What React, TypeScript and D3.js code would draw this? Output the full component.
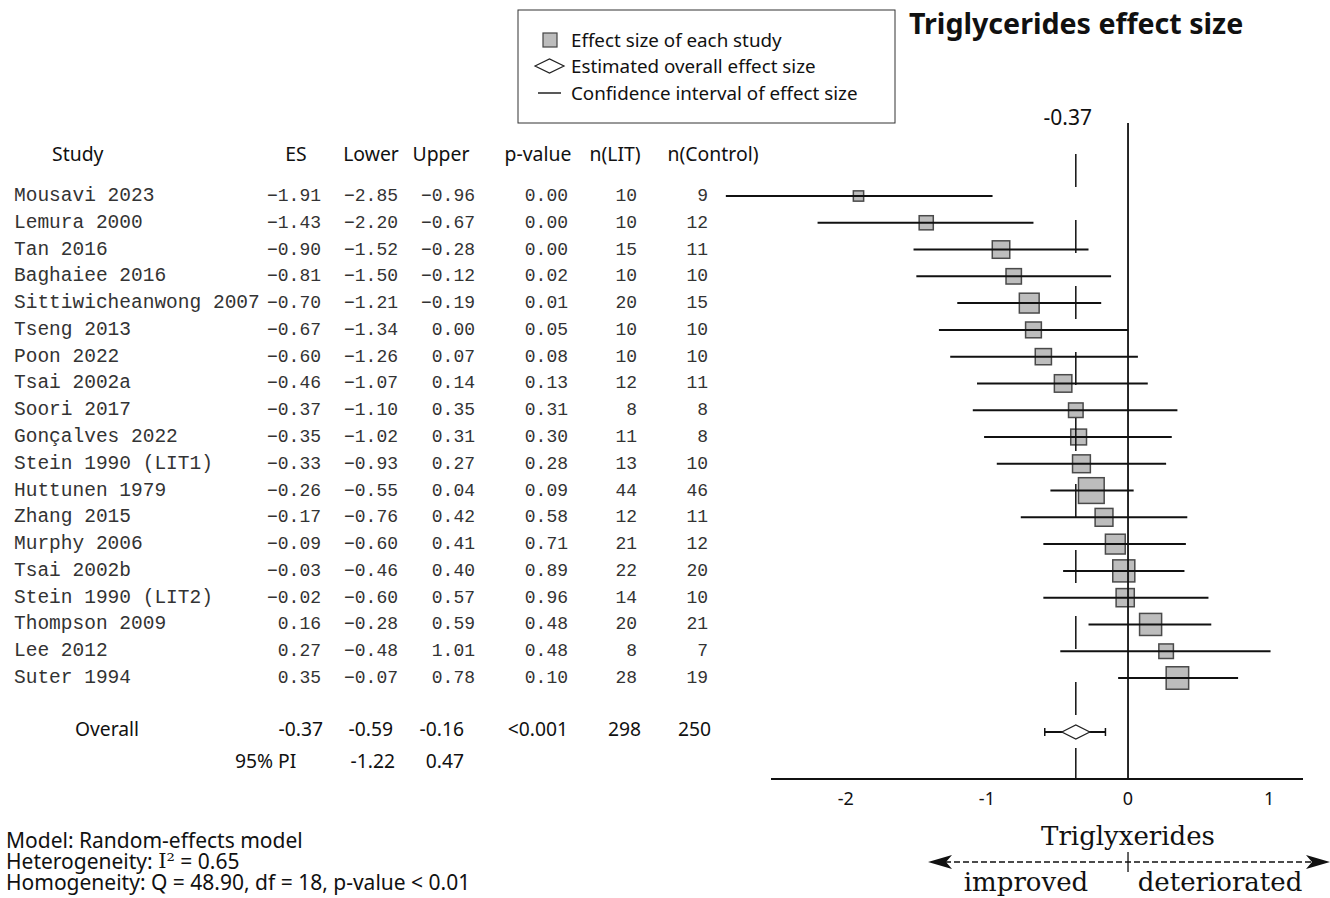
import * as d3 from 'd3';

const studies = [
  'Mousavi 2023', 'Lemura 2000', 'Tan 2016', 'Baghaiee 2016', 'Sittiwicheanwong 2007',
  'Tseng 2013', 'Poon 2022', 'Tsai 2002a', 'Soori 2017', 'Gonçalves 2022',
  'Stein 1990 (LIT1)', 'Huttunen 1979', 'Zhang 2015', 'Murphy 2006', 'Tsai 2002b',
  'Stein 1990 (LIT2)', 'Thompson 2009', 'Lee 2012', 'Suter 1994',
];
const es = [-1.91, -1.43, -0.90, -0.81, -0.70, -0.67, -0.60, -0.46, -0.37, -0.35, -0.33, -0.26, -0.17, -0.09, -0.03, -0.02, 0.16, 0.27, 0.35];
const lower = [-2.85, -2.20, -1.52, -1.50, -1.21, -1.34, -1.26, -1.07, -1.10, -1.02, -0.93, -0.55, -0.76, -0.60, -0.46, -0.60, -0.28, -0.48, -0.07];
const upper = [-0.96, -0.67, -0.28, -0.12, -0.19, 0.00, 0.07, 0.14, 0.35, 0.31, 0.27, 0.04, 0.42, 0.41, 0.40, 0.57, 0.59, 1.01, 0.78];
const pValues = [0.00, 0.00, 0.00, 0.02, 0.01, 0.05, 0.08, 0.13, 0.31, 0.30, 0.28, 0.09, 0.58, 0.71, 0.89, 0.96, 0.48, 0.48, 0.10];
const nLit = [10, 10, 15, 10, 20, 10, 10, 12, 8, 11, 13, 44, 12, 21, 22, 14, 20, 8, 28];
const nControl = [9, 12, 11, 10, 15, 10, 10, 11, 8, 8, 10, 46, 11, 12, 20, 10, 21, 7, 19];
// study weights (%)
const weights = [1.7, 3.2, 4.9, 3.8, 6.3, 4.0, 4.2, 4.9, 3.4, 4.0, 5.1, 10.6, 5.1, 6.3, 7.8, 5.3, 7.8, 3.4, 8.1];

const overall = { es: -0.37, lower: -0.59, upper: -0.16, p: '<0.001', nLit: 298, nControl: 250 };
const predInterval = [-1.22, 0.47];
const xTicks = [-2, -1, 0, 1];

const SANS = '"Noto Sans", "Open Sans", sans-serif';
const MONO = '"Liberation Mono", "Courier New", monospace';
const SERIF = '"DejaVu Serif", "Liberation Serif", serif';

export default function App() {
  const width = 1330, height = 898;

  const x = d3.scaleLinear().domain([-2.53, 1.24]).range([771, 1303]);
  const y = d3.scalePoint<string>().domain(studies).range([196, 678]);
  const size = d3.scaleSqrt().domain([0, d3.max(weights) as number]).range([0, 25.7]);
  const fmt = d3.format('.2f');

  const axisY = 779;
  const overallY = 728;
  const piY = 760;

  // right edges of the table columns
  const col = { es: 321, lower: 398, upper: 475, p: 568, nLit: 637, nControl: 708 };

  return (
    <svg width={width} height={height} style={{ position: 'absolute', left: 0, top: 0, background: '#fff' }}>
      {/* legend */}
      <rect x={518} y={10} width={377} height={113} fill="none" stroke="#333" strokeWidth={1} />
      <rect x={543} y={33} width={14} height={14} fill="#bdbdbd" stroke="#444" strokeWidth={1.2} />
      <path d="M535,66 L549.5,59 L564,66 L549.5,73 Z" fill="none" stroke="#222" strokeWidth={1.2} />
      <line x1={538} x2={561} y1={93} y2={93} stroke="#222" strokeWidth={1.5} />
      <g fontFamily={SANS} fontSize={18.8} fill="#111" dominantBaseline="central">
        <text x={571} y={40}>Effect size of each study</text>
        <text x={571} y={66}>Estimated overall effect size</text>
        <text x={571} y={93}>Confidence interval of effect size</text>
      </g>

      {/* title */}
      <text x={909} y={22} fontFamily={SANS} fontWeight="bold" fontSize={28.6} dominantBaseline="central" fill="#111">
        Triglycerides effect size
      </text>

      {/* table header */}
      <g fontFamily={SANS} fontSize={19.4} fill="#111" dominantBaseline="central">
        <text x={52} y={153}>Study</text>
        <text x={296} y={153} textAnchor="middle">ES</text>
        <text x={371} y={153} textAnchor="middle">Lower</text>
        <text x={441} y={153} textAnchor="middle">Upper</text>
        <text x={538} y={153} textAnchor="middle">p-value</text>
        <text x={615} y={153} textAnchor="middle">n(LIT)</text>
        <text x={713} y={153} textAnchor="middle">n(Control)</text>
      </g>

      {/* table rows */}
      <g fontFamily={MONO} fill="#333" dominantBaseline="central">
        {studies.map((s, i) => (
          <g key={s}>
            <text x={14} y={y(s)} fontSize={19.5}>{s}</text>
            <g fontSize={18}>
              <text x={col.es} y={y(s)} textAnchor="end">{fmt(es[i])}</text>
              <text x={col.lower} y={y(s)} textAnchor="end">{fmt(lower[i])}</text>
              <text x={col.upper} y={y(s)} textAnchor="end">{fmt(upper[i])}</text>
              <text x={col.p} y={y(s)} textAnchor="end">{fmt(pValues[i])}</text>
              <text x={col.nLit} y={y(s)} textAnchor="end">{nLit[i]}</text>
              <text x={col.nControl} y={y(s)} textAnchor="end">{nControl[i]}</text>
            </g>
          </g>
        ))}
      </g>

      {/* overall rows */}
      <g fontFamily={SANS} fontSize={19.3} fill="#111" dominantBaseline="central">
        <text x={75} y={overallY}>Overall</text>
        <text x={323} y={overallY} textAnchor="end">{overall.es.toFixed(2)}</text>
        <text x={393} y={overallY} textAnchor="end">{overall.lower.toFixed(2)}</text>
        <text x={464} y={overallY} textAnchor="end">{overall.upper.toFixed(2)}</text>
        <text x={568} y={overallY} textAnchor="end">{overall.p}</text>
        <text x={641} y={overallY} textAnchor="end">{overall.nLit}</text>
        <text x={711} y={overallY} textAnchor="end">{overall.nControl}</text>
        <text x={235} y={piY}>95% PI</text>
        <text x={395} y={piY} textAnchor="end">{predInterval[0].toFixed(2)}</text>
        <text x={464} y={piY} textAnchor="end">{predInterval[1].toFixed(2)}</text>
      </g>

      {/* study squares */}
      {studies.map((s, i) => {
        const w = size(weights[i]);
        return (
          <rect key={s} x={x(es[i]) - w / 2} y={(y(s) as number) - w / 2} width={w} height={w}
            fill="#bdbdbd" stroke="#4a4a4a" strokeWidth={1.5} />
        );
      })}
      {/* confidence intervals */}
      {studies.map((s, i) => (
        <line key={s} x1={x(lower[i])} x2={x(upper[i])} y1={y(s)} y2={y(s)} stroke="#111" strokeWidth={2} />
      ))}

      {/* overall diamond + CI */}
      <line x1={x(overall.lower)} x2={x(overall.upper)} y1={overallY + 4} y2={overallY + 4} stroke="#111" strokeWidth={2} />
      <line x1={x(overall.lower)} x2={x(overall.lower)} y1={overallY} y2={overallY + 8} stroke="#111" strokeWidth={1.5} />
      <line x1={x(overall.upper)} x2={x(overall.upper)} y1={overallY} y2={overallY + 8} stroke="#111" strokeWidth={1.5} />
      <path d={`M${x(overall.es) - 14},${overallY + 4} L${x(overall.es)},${overallY - 3} L${x(overall.es) + 14},${overallY + 4} L${x(overall.es)},${overallY + 11} Z`}
        fill="#fff" stroke="#222" strokeWidth={1.2} />

      {/* reference lines */}
      <line x1={x(0)} x2={x(0)} y1={123} y2={axisY} stroke="#111" strokeWidth={1.8} />
      <line x1={x(overall.es)} x2={x(overall.es)} y1={154} y2={axisY} stroke="#111" strokeWidth={1.5} strokeDasharray="33,33" />
      <text x={x(overall.es) - 8} y={117} textAnchor="middle" fontFamily={SANS} fontSize={21} dominantBaseline="central" fill="#111">
        {overall.es.toFixed(2)}
      </text>

      {/* x axis */}
      <line x1={x.range()[0]} x2={x.range()[1]} y1={axisY} y2={axisY} stroke="#111" strokeWidth={2} />
      <g fontFamily={SANS} fontSize={18} fill="#111" dominantBaseline="central">
        {xTicks.map(t => (
          <text key={t} x={x(t)} y={798} textAnchor="middle">{t}</text>
        ))}
      </g>

      {/* model notes */}
      <g fontFamily={SANS} fontSize={21} fill="#111" dominantBaseline="central">
        <text x={6} y={840}>Model: Random-effects model</text>
        <text x={6} y={861}>Heterogeneity: <tspan fontFamily={SERIF}>I²</tspan> = 0.65</text>
        <text x={6} y={882}>Homogeneity: Q = 48.90, df = 18, p-value &lt; 0.01</text>
      </g>

      {/* direction arrow */}
      <g fontFamily={SERIF} fontSize={26} fill="#111">
        <text x={x(0)} y={836} textAnchor="middle" dominantBaseline="central">Triglyxerides</text>
        <text x={1026} y={882} textAnchor="middle" dominantBaseline="central">improved</text>
        <text x={1220} y={882} textAnchor="middle" dominantBaseline="central">deteriorated</text>
      </g>
      <line x1={945} x2={1313} y1={862} y2={862} stroke="#111" strokeWidth={1.4} strokeDasharray="6,3" />
      <line x1={x(0)} x2={x(0)} y1={852} y2={872} stroke="#111" strokeWidth={1.3} />
      <path d="M928,862 L952,855 L946,862 L952,869 Z" fill="#111" />
      <path d="M1330,862 L1306,855 L1312,862 L1306,869 Z" fill="#111" />
    </svg>
  );
}
